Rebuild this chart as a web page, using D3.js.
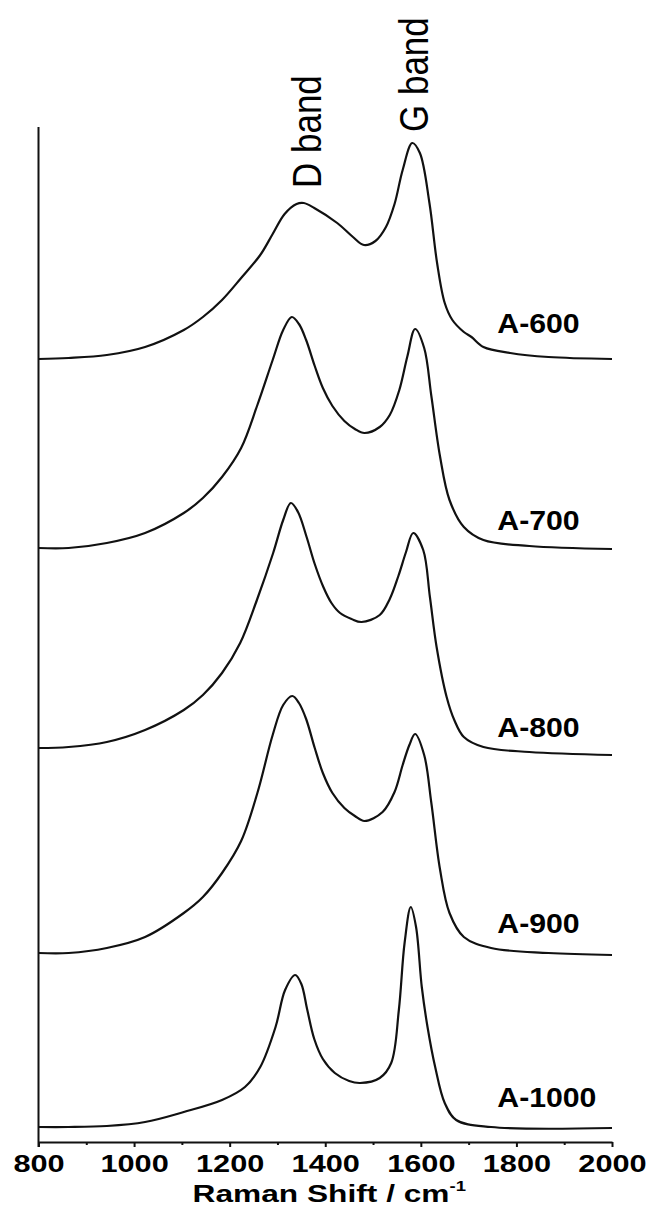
<!DOCTYPE html>
<html>
<head>
<meta charset="utf-8">
<script src="https://cdn.jsdelivr.net/npm/d3@7"></script>
<style>
  html, body { margin: 0; padding: 0; background: #fff; }
  svg { display: block; }
  text { font-family: Arial, "Liberation Sans", sans-serif; fill: #000; }
</style>
</head>
<body>
<svg id="chart" width="652" height="1207"></svg>
<script>
// ---------------- data ----------------
const sampleNames = ["A-600", "A-700", "A-800", "A-900", "A-1000"];
// vertical stacking offset of each spectrum (a.u.)
const offsets = [783, 594, 394, 189, 15];

const wn600 = [800, 863, 943, 1023, 1104, 1144, 1184, 1224, 1264, 1290, 1315, 1340, 1355, 1377, 1425, 1458, 1481, 1505, 1527, 1545, 1562, 1582, 1598, 1618, 1634, 1650, 1666, 1690, 1706, 1731, 1787, 1867, 2000];
const in600 = [0, 1, 4, 12, 29, 42, 59, 81, 104, 125, 145, 155, 156, 151, 136, 122, 114, 118, 132, 155, 189, 216, 206, 156, 96, 56, 39, 27, 22, 12, 6, 2, 0];

const wn700 = [800, 863, 943, 1023, 1104, 1144, 1184, 1224, 1258, 1290, 1312, 1330, 1345, 1360, 1378, 1395, 1415, 1440, 1462, 1482, 1514, 1535, 1555, 1572, 1588, 1607, 1622, 1640, 1660, 1690, 1731, 1827, 2000];
const in700 = [0, 0, 5, 15, 35, 50, 71, 100, 143, 188, 218, 231, 224, 208, 182, 160, 142, 127, 119, 115, 121, 133, 158, 192, 219, 200, 152, 92, 48, 21, 8, 2, -1];

const wn800 = [800, 863, 943, 1023, 1104, 1144, 1184, 1222, 1257, 1291, 1312, 1328, 1343, 1361, 1378, 1396, 1413, 1431, 1455, 1476, 1514, 1535, 1553, 1569, 1584, 1605, 1619, 1633, 1654, 1670, 1690, 1731, 1827, 2000];
const in800 = [0, 1, 6, 18, 38, 53, 75, 105, 148, 195, 228, 245, 236, 211, 184, 161, 145, 135, 129, 126, 133, 149, 172, 196, 215, 198, 151, 101, 51, 28, 11, 1, -4, -7];

const wn900 = [800, 863, 943, 1023, 1104, 1144, 1184, 1224, 1258, 1290, 1312, 1331, 1345, 1360, 1378, 1395, 1415, 1440, 1462, 1482, 1520, 1545, 1562, 1576, 1588, 1607, 1622, 1640, 1660, 1690, 1747, 1867, 2000];
const in900 = [0, 0, 5, 16, 40, 56, 80, 112, 160, 218, 248, 257, 250, 234, 205, 180, 160, 145, 137, 132, 141, 161, 188, 208, 219, 198, 150, 84, 40, 16, 5, 0, -2];

const wn1000 = [800, 863, 943, 1023, 1104, 1184, 1232, 1264, 1296, 1316, 1337, 1350, 1362, 1377, 1395, 1420, 1450, 1473, 1514, 1538, 1554, 1566, 1579, 1590, 1602, 1614, 1630, 1650, 1674, 1747, 2000];
const in1000 = [0, 0, 1, 5, 15, 27, 40, 60, 100, 137, 152, 143, 118, 88, 68, 54, 46, 44, 49, 64, 117, 184, 220, 200, 140, 100, 60, 24, 7, 0, -1];

const wavenumbers = [wn600, wn700, wn800, wn900, wn1000];
const intensities = [in600, in700, in800, in900, in1000];

const xTicks = [800, 1000, 1200, 1400, 1600, 1800, 2000];
const xMinorTicks = [900, 1100, 1300, 1500, 1700, 1900];
const bandLabels = [{ text: "D band", wn: 1340, at: 954 }, { text: "G band", wn: 1587, at: 1010 }];

// ---------------- drawing ----------------
const svg = d3.select("#chart");
const x = d3.scaleLinear().domain([800, 2000]).range([38.5, 612]);
const y = d3.scaleLinear().domain([0, 1015]).range([1142, 127]);

// spectra
const line = d3.line()
  .x(d => x(d[0]))
  .y(d => y(d[1]))
  .curve(d3.curveCatmullRom.alpha(0.5));

sampleNames.forEach((name, i) => {
  const pts = wavenumbers[i].map((w, j) => [w, intensities[i][j] + offsets[i]]);
  svg.append("path")
    .datum(pts)
    .attr("fill", "none")
    .attr("stroke", "#111")
    .attr("stroke-width", 2.2)
    .attr("stroke-linejoin", "round")
    .attr("d", line);
});

// left spine
svg.append("line")
  .attr("x1", x(800)).attr("x2", x(800))
  .attr("y1", y(1015)).attr("y2", y(0) + 5)
  .attr("stroke", "#111").attr("stroke-width", 2);

// bottom axis: major
const axisMajor = d3.axisBottom(x).tickValues(xTicks).tickSize(5).tickSizeOuter(0).tickFormat(d3.format("d"));
const gx = svg.append("g").attr("transform", `translate(0,${y(0)})`).call(axisMajor);
gx.select(".domain").attr("stroke", "#111").attr("stroke-width", 2);
gx.selectAll(".tick line").attr("stroke", "#111").attr("stroke-width", 2);
gx.selectAll(".tick text")
  .attr("y", 30).attr("dy", 0)
  .attr("font-size", 24).attr("font-weight", "bold")
  .attr("font-family", "Arial, 'Liberation Sans', sans-serif")
  .attr("fill", "#111")
  .attr("transform", "scale(1.28,1)");

// bottom axis: minor
const axisMinor = d3.axisBottom(x).tickValues(xMinorTicks).tickSize(3).tickFormat("");
const gm = svg.append("g").attr("transform", `translate(0,${y(0)})`).call(axisMinor);
gm.select(".domain").remove();
gm.selectAll(".tick line").attr("stroke", "#111").attr("stroke-width", 2);

// axis title
const title = svg.append("text")
  .attr("text-anchor", "middle")
  .attr("font-size", 24).attr("font-weight", "bold")
  .attr("fill", "#111")
  .attr("transform", `translate(${(x(800) + x(2000)) / 2 + 4},1202) scale(1.32,1)`);
title.append("tspan").text("Raman Shift / cm");
title.append("tspan").text("-1").attr("font-size", 14).attr("dy", -11);

// sample labels
const labelBase = [333, 530, 737, 933, 1107];
sampleNames.forEach((name, i) => {
  svg.append("text")
    .attr("transform", `translate(${x(1760)},${labelBase[i]}) scale(1.08,1)`)
    .attr("font-size", 28).attr("font-weight", "bold")
    .attr("fill", "#111")
    .text(name);
});

// band labels (rotated, baseline on the right side of the glyphs)
bandLabels.forEach((b, i) => {
  const dx = i === 0 ? 24 : 13;
  svg.append("text")
    .attr("transform", `translate(${x(b.wn) + dx},${y(b.at)}) scale(1.15,1) rotate(-90)`)
    .attr("font-size", 35)
    .attr("fill", "#111")
    .text(b.text);
});
</script>
</body>
</html>
